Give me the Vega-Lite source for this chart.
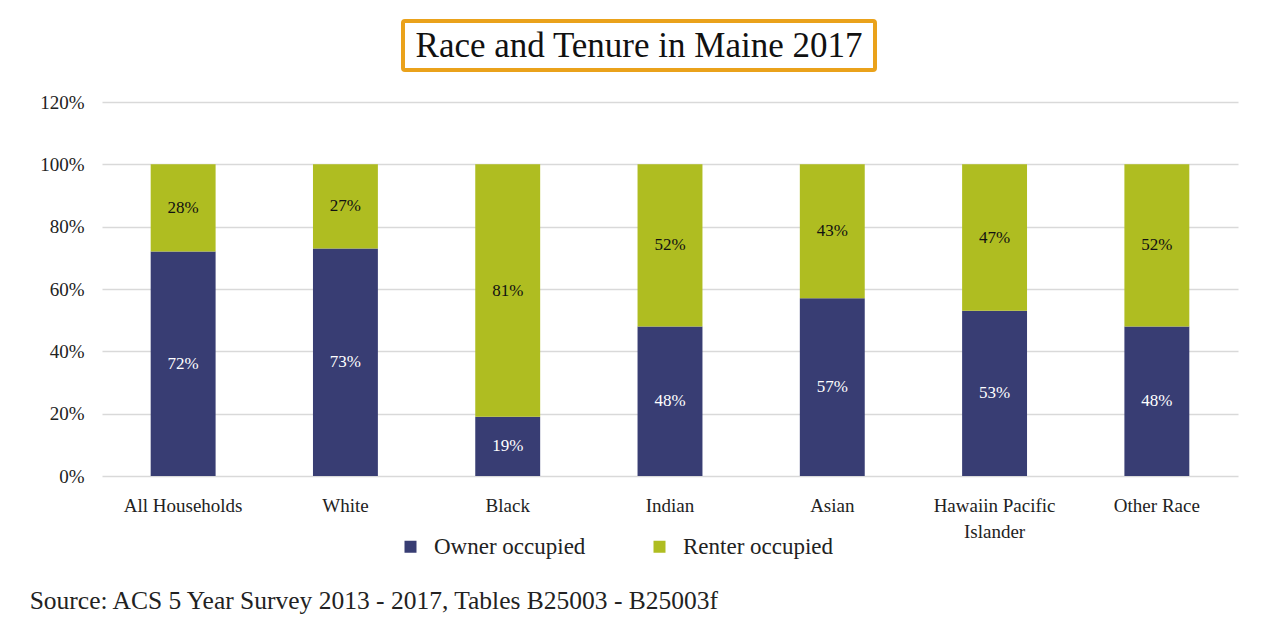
{
  "$schema": "https://vega.github.io/schema/vega-lite/v6.json",
  "padding": {"left": 29, "top": 19, "right": 5, "bottom": 0},
  "background": "white",
  "config": {"font": "Liberation Serif", "view": {"stroke": null}},
  "title": {
    "text": "Source: ACS 5 Year Survey 2013 - 2017, Tables B25003 - B25003f",
    "orient": "bottom",
    "anchor": "start",
    "frame": "bounds",
    "fontSize": 25.5,
    "fontWeight": "normal",
    "font": "Liberation Serif",
    "color": "#222222",
    "offset": 30,
    "dx": -10
  },
  "spacing": 21,
  "center": true,
  "vconcat": [
    {
      "spacing": 20,
      "hconcat": [
        {
          "width": 472,
          "height": 49,
          "view": {"stroke": "#eaa21b", "strokeWidth": 4, "cornerRadius": 2},
          "data": {"values": [{"title": "Race and Tenure in Maine 2017"}]},
          "mark": {"type": "text", "fontSize": 35, "font": "Liberation Serif", "color": "#111111"},
          "encoding": {"text": {"field": "title", "type": "nominal"}}
        },
        {
          "width": 40,
          "height": 49,
          "data": {"values": []},
          "mark": {"type": "text"},
          "encoding": {}
        }
      ]
    },
    {
      "width": 1136,
      "height": 374,
      "data": {
        "values": [
          {"race": "All Households", "tenure": "Owner occupied", "share": 0.72},
          {"race": "All Households", "tenure": "Renter occupied", "share": 0.28},
          {"race": "White", "tenure": "Owner occupied", "share": 0.73},
          {"race": "White", "tenure": "Renter occupied", "share": 0.27},
          {"race": "Black", "tenure": "Owner occupied", "share": 0.19},
          {"race": "Black", "tenure": "Renter occupied", "share": 0.81},
          {"race": "Indian", "tenure": "Owner occupied", "share": 0.48},
          {"race": "Indian", "tenure": "Renter occupied", "share": 0.52},
          {"race": "Asian", "tenure": "Owner occupied", "share": 0.57},
          {"race": "Asian", "tenure": "Renter occupied", "share": 0.43},
          {"race": "Hawaiin Pacific Islander", "tenure": "Owner occupied", "share": 0.53},
          {"race": "Hawaiin Pacific Islander", "tenure": "Renter occupied", "share": 0.47},
          {"race": "Other Race", "tenure": "Owner occupied", "share": 0.48},
          {"race": "Other Race", "tenure": "Renter occupied", "share": 0.52}
        ]
      },
      "layer": [
        {
          "mark": {"type": "bar"},
          "encoding": {
            "x": {
              "field": "race",
              "type": "nominal",
              "sort": null,
              "scale": {"paddingInner": 0.6, "paddingOuter": 0.3},
              "axis": {
                "title": null,
                "domain": false,
                "ticks": false,
                "labelAngle": 0,
                "labelPadding": 20,
                "labelFontSize": 19,
                "labelColor": "#222222",
                "labelLineHeight": 26,
                "labelExpr": "datum.value == 'Hawaiin Pacific Islander' ? ['Hawaiin Pacific', 'Islander'] : datum.value"
              }
            },
            "y": {
              "field": "share",
              "type": "quantitative",
              "stack": "zero",
              "scale": {"domain": [0, 1.2], "nice": false},
              "axis": {
                "title": null,
                "values": [0, 0.2, 0.4, 0.6, 0.8, 1.0, 1.2],
                "format": ".0%",
                "domain": false,
                "ticks": false,
                "labelPadding": 18,
                "labelFontSize": 19,
                "labelColor": "#222222",
                "gridColor": "#d9d9d9",
                "gridWidth": 1.5
              }
            },
            "order": {"field": "tenure", "sort": "ascending"},
            "color": {
              "field": "tenure",
              "type": "nominal",
              "scale": {"domain": ["Owner occupied", "Renter occupied"], "range": ["#383d73", "#afbd21"]},
              "legend": {
                "title": null,
                "orient": "none",
                "legendX": 297,
                "legendY": 514,
                "padding": 0,
                "direction": "horizontal",
                "symbolType": "square",
                "symbolSize": 144,
                "symbolStrokeWidth": 0,
                "labelFontSize": 23,
                "labelColor": "#222222",
                "labelOffset": 12,
                "columnPadding": 62
              }
            }
          }
        },
        {
          "transform": [
            {"stack": "share", "groupby": ["race"], "sort": [{"field": "tenure", "order": "ascending"}], "as": ["y0", "y1"]},
            {"fold": ["y0", "y1"], "as": ["edge", "pos"]}
          ],
          "mark": {"type": "text", "fontSize": 17, "font": "Liberation Serif"},
          "encoding": {
            "x": {"field": "race", "type": "nominal", "sort": null},
            "y": {"aggregate": "mean", "field": "pos", "type": "quantitative"},
            "detail": {"field": "tenure", "type": "nominal"},
            "text": {"field": "share", "type": "quantitative", "format": ".0%"},
            "color": {"condition": {"test": "datum.tenure == 'Owner occupied'", "value": "white"}, "value": "#111111"}
          }
        }
      ]
    }
  ]
}
